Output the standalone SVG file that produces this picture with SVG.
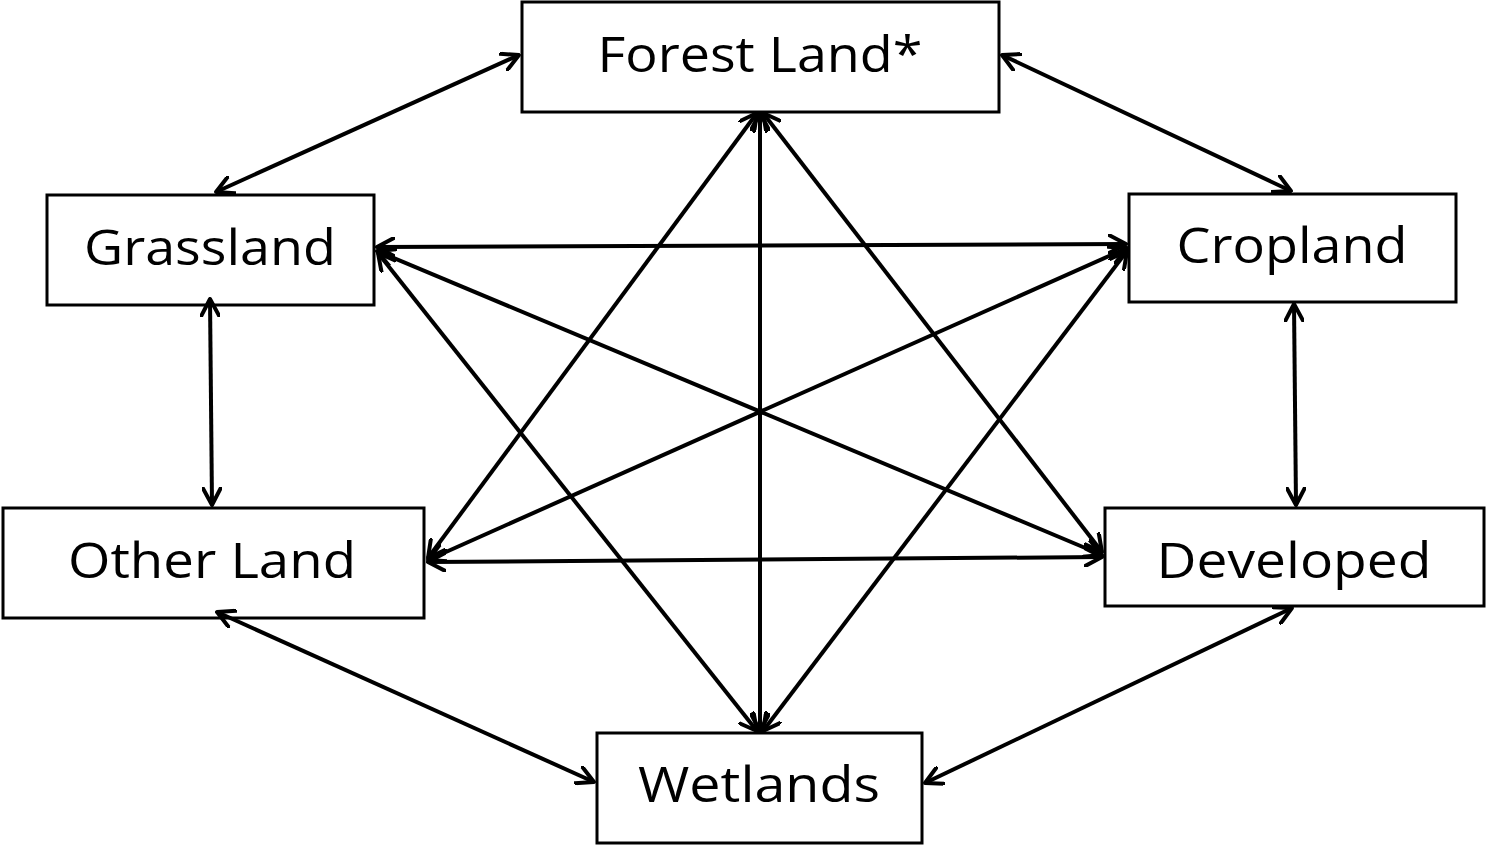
<svg xmlns="http://www.w3.org/2000/svg" width="1486" height="846" viewBox="0 0 1486 846">
<style>
.box{fill:#fff;stroke:#000;stroke-width:3}
.lbl{font-family:"Open Sans","Liberation Sans",sans-serif;font-size:50px;fill:#000;text-anchor:middle}
.c line{stroke:#000;stroke-width:4;fill:none;marker-start:url(#ah);marker-end:url(#ah)}
</style>
<defs>
<marker id="ah" viewBox="0 0 20 20" refX="18" refY="10" markerWidth="20" markerHeight="20" markerUnits="userSpaceOnUse" orient="auto-start-reverse">
<path d="M1,1 L18,10 L1,19" fill="none" stroke="#000" stroke-width="4" stroke-linecap="round" stroke-linejoin="round"/>
</marker>
</defs>
<rect width="1486" height="846" fill="#fff"/>
<g id="forest"><rect class="box" x="522" y="2" width="477" height="110"/><text class="lbl" x="760" y="72" textLength="325" lengthAdjust="spacingAndGlyphs">Forest Land*</text></g>
<g id="grassland"><rect class="box" x="47" y="195" width="327" height="110"/><text class="lbl" x="210" y="265" textLength="252" lengthAdjust="spacingAndGlyphs">Grassland</text></g>
<g id="cropland"><rect class="box" x="1129" y="194" width="327" height="108"/><text class="lbl" x="1292" y="263" textLength="231" lengthAdjust="spacingAndGlyphs">Cropland</text></g>
<g id="otherland"><rect class="box" x="3" y="508" width="421" height="110"/><text class="lbl" x="212" y="578" textLength="288" lengthAdjust="spacingAndGlyphs">Other Land</text></g>
<g id="developed"><rect class="box" x="1105" y="508" width="379" height="98"/><text class="lbl" x="1294" y="578" textLength="275" lengthAdjust="spacingAndGlyphs">Developed</text></g>
<g id="wetlands"><rect class="box" x="597" y="733" width="325" height="110"/><text class="lbl" x="759" y="802" textLength="242" lengthAdjust="spacingAndGlyphs">Wetlands</text></g>
<g class="c" id="connectors">
<line x1="216" y1="192" x2="519" y2="55"/>
<line x1="1002" y1="55" x2="1291" y2="191"/>
<line x1="210" y1="299" x2="212" y2="505"/>
<line x1="1294" y1="304" x2="1296" y2="505"/>
<line x1="217" y1="612" x2="594" y2="782"/>
<line x1="1292" y1="608" x2="925" y2="783"/>
<line x1="760" y1="113" x2="760" y2="731"/>
<line x1="757" y1="113" x2="428" y2="558"/>
<line x1="763" y1="113" x2="1102" y2="552"/>
<line x1="377" y1="247" x2="1126" y2="244"/>
<line x1="377" y1="251" x2="1102" y2="555"/>
<line x1="378" y1="253" x2="757" y2="731"/>
<line x1="1127" y1="248" x2="428" y2="560"/>
<line x1="1127" y1="251" x2="763" y2="731"/>
<line x1="428" y1="562" x2="1102" y2="557"/>
</g>
</svg>
